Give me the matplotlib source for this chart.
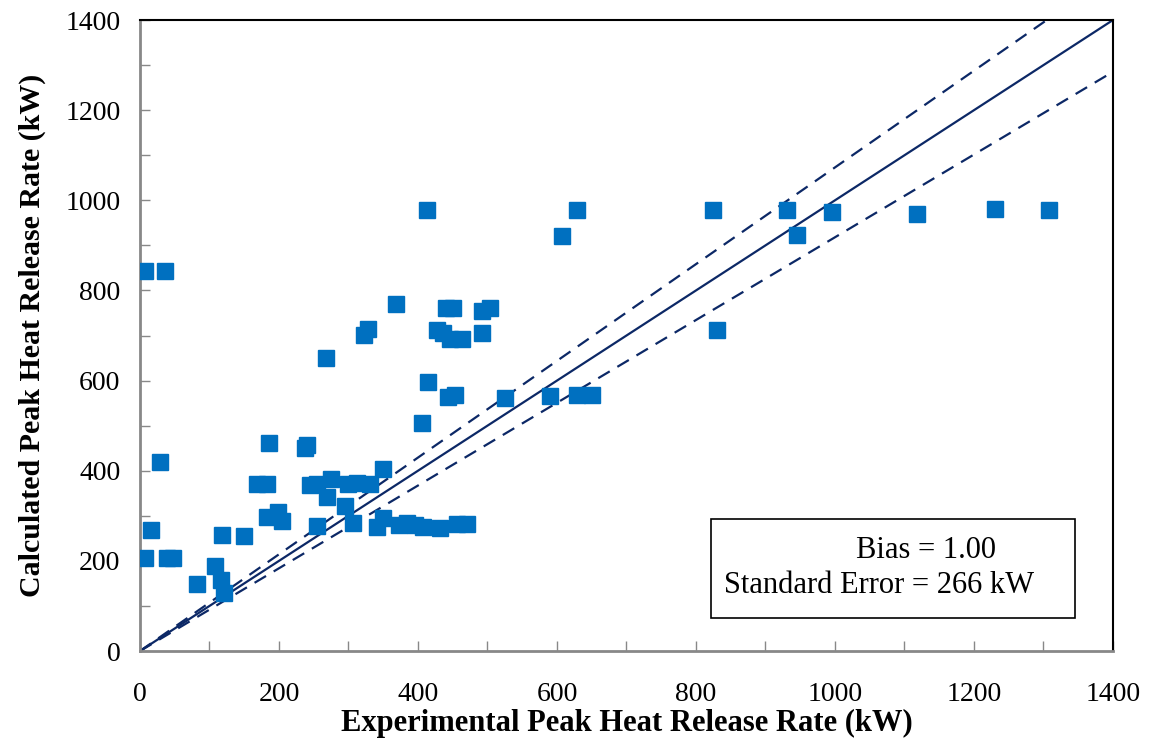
import matplotlib
matplotlib.use('Agg')
import matplotlib.pyplot as plt
from matplotlib.patches import Rectangle

plt.rcParams['font.family'] = ['Liberation Serif', 'DejaVu Serif']

# experimental vs calculated peak HRR (kW)
exp_hrr = [7, 36, 7, 16, 29, 39, 47, 82, 108, 117, 121, 118, 150, 168, 183,
           186, 183, 199, 204, 237, 240, 245, 255, 275, 269, 295, 299, 312,
           331, 306, 341, 350, 350, 255, 372, 384, 395, 407, 432, 456, 470,
           368, 328, 322, 268, 441, 450, 492, 504, 427, 436, 446, 463, 492,
           414, 443, 453, 525, 406, 413,
           629, 607, 825, 931, 995, 945, 830, 590, 629, 650, 1118, 1230, 1308]
calc_hrr = [843, 843, 206, 268, 419, 206, 206, 149, 188, 158, 129, 257, 255, 370, 370,
            462, 297, 309, 289, 450, 457, 368, 370, 382, 342, 322, 370, 373,
            370, 284, 275, 404, 295, 277, 280, 284, 280, 276, 272, 281, 281,
            770, 714, 701, 650, 761, 761, 755, 761, 712, 705, 692, 692, 705,
            597, 564, 568, 561, 506, 978,
            978, 921, 978, 978, 974, 923, 712, 566, 568, 568, 970, 981, 978]

line_x = [0, 1400]
upper_slope = 1.073
lower_slope = 0.918

fig = plt.figure(figsize=(11.56, 7.47), dpi=100)
ax = fig.add_axes([0.1211, 0.1285, 0.8417, 0.8447])

navy = '#0C2866'
ax.plot(line_x, line_x, color=navy, lw=1.6, zorder=2)
ax.plot(line_x, [v * upper_slope for v in line_x], color=navy, lw=1.6,
        dashes=(6, 4), zorder=2)
ax.plot(line_x, [v * lower_slope for v in line_x], color=navy, lw=1.6,
        dashes=(6, 4), zorder=2)
ax.plot(exp_hrr, calc_hrr, 's', color='#0070C0', ms=11, zorder=3)

ax.set_xlim(0, 1400)
ax.set_ylim(0, 1400)
ax.set_xticks(range(0, 1401, 200))
ax.set_yticks(range(0, 1401, 200))
ax.set_xticks(range(100, 1400, 200), minor=True)
ax.set_yticks(range(100, 1400, 200), minor=True)
ax.tick_params(which='both', direction='in', length=7, width=1, color='#888888',
               labelsize=20, top=False, right=False)
ax.tick_params(axis='x', pad=22)
ax.tick_params(axis='y', pad=14)

for side in ['left', 'bottom']:
    ax.spines[side].set_color('#888888')
    ax.spines[side].set_linewidth(2)
for side in ['top', 'right']:
    ax.spines[side].set_color('black')
    ax.spines[side].set_linewidth(1.5)

ax.set_xlabel('Experimental Peak Heat Release Rate (kW)', fontsize=22,
              fontweight='bold', labelpad=2)
ax.set_ylabel('Calculated Peak Heat Release Rate (kW)', fontsize=21.5,
              fontweight='bold', labelpad=14)

# stats box
ax.add_patch(Rectangle((0.587, 0.0523), 0.374, 0.157, transform=ax.transAxes,
                       fill=False, edgecolor='black', lw=1.2, zorder=4))
ax.text(0.8075, 0.159, 'Bias = 1.00', transform=ax.transAxes, fontsize=22,
        ha='center', va='center')
ax.text(0.6, 0.104, 'Standard Error = 266 kW', transform=ax.transAxes,
        fontsize=22, ha='left', va='center')

fig.savefig('out.png', dpi=100)
